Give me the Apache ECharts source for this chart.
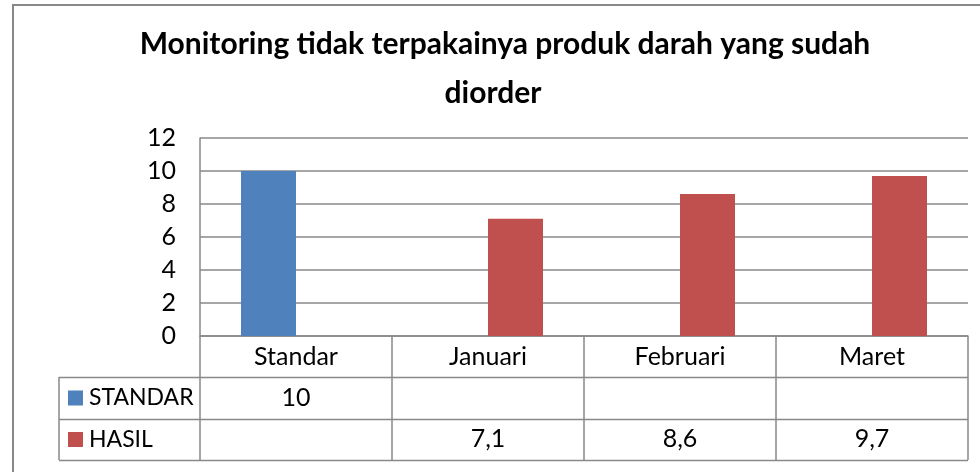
<!DOCTYPE html>
<html>
<head>
<meta charset="utf-8">
<script src="https://cdn.jsdelivr.net/npm/echarts@6/dist/echarts.min.js"></script>
<style>
html, body { margin: 0; padding: 0; background: #fff; }
#main { width: 980px; height: 472px; }
</style>
</head>
<body>
<div id="main"></div>
<script>
var categories = ['Standar', 'Januari', 'Februari', 'Maret'];
var standarValues = [10, null, null, null];
var hasilValues = [null, 7.1, 8.6, 9.7];
var seriesNames = ['STANDAR', 'HASIL'];
var yTicks = { min: 0, max: 12, interval: 2 };

var gray = '#898989';
var font = 'Lato, "Liberation Sans", sans-serif';

var chart = echarts.init(document.getElementById('main'));

var titleStyle = { fontFamily: font, fontSize: 30, fontWeight: 'bold', color: '#000', lineHeight: 34 };
var option = {
    animation: false,
    textStyle: { fontFamily: font },
    title: [
        {
            text: 'Monitoring tidak terpakainya produk darah yang sudah',
            left: 505,
            top: 27,
            textAlign: 'center',
            padding: 0,
            textStyle: titleStyle
        },
        {
            text: 'diorder',
            left: 493,
            top: 76,
            textAlign: 'center',
            padding: 0,
            textStyle: titleStyle
        }
    ],
    legend: {
        orient: 'vertical',
        left: 68,
        top: 386.5,
        padding: 0,
        itemWidth: 15,
        itemHeight: 15,
        itemGap: 18.5,
        icon: 'rect',
        selectedMode: false,
        textStyle: { fontSize: 23, color: '#000', padding: [0, 0, 0, 1] },
        data: seriesNames
    },
    grid: { left: 200, right: 12, top: 138, bottom: 136 },
    xAxis: {
        type: 'category',
        data: categories,
        axisLine: { lineStyle: { color: gray, width: 1.5 } },
        axisTick: { show: true, length: 124, lineStyle: { color: gray, width: 1.5 } },
        axisLabel: { fontSize: 25, color: '#000', margin: 0, lineHeight: 41, verticalAlign: 'top' }
    },
    yAxis: {
        type: 'value',
        min: yTicks.min,
        max: yTicks.max,
        interval: yTicks.interval,
        axisLine: { show: true, lineStyle: { color: gray, width: 1.5 } },
        axisTick: { show: false },
        splitLine: { lineStyle: { color: gray, width: 1.5 } },
        axisLabel: { fontSize: 25, color: '#000', margin: 24 }
    },
    series: [
        {
            name: seriesNames[0],
            type: 'bar',
            data: standarValues,
            barWidth: 55,
            barGap: '0%',
            itemStyle: { color: '#4F81BD' }
        },
        {
            name: seriesNames[1],
            type: 'bar',
            data: hasilValues,
            barWidth: 55,
            barGap: '0%',
            itemStyle: { color: '#C0504D' }
        }
    ]
};
chart.setOption(option);

// data table under the axis
var rowTop = 377, rowH = 41.5, tableLeft = 59, tableRight = 968;
var rows = [standarValues, hasilValues];
var graphics = [];
// outer chart border
graphics.push({ type: 'rect', shape: { x: 13, y: 5, width: 1000, height: 500 }, style: { fill: null, stroke: gray, lineWidth: 2 } });
for (var r = 0; r <= rows.length; r++) {
    var y = Math.round(rowTop + r * rowH) + 0.5;
    graphics.push({ type: 'line', shape: { x1: tableLeft, y1: y, x2: tableRight, y2: y }, style: { stroke: gray, lineWidth: 1.5 } });
}
graphics.push({ type: 'line', shape: { x1: tableLeft, y1: rowTop, x2: tableLeft, y2: rowTop + rows.length * rowH }, style: { stroke: gray, lineWidth: 1.5 } });
rows.forEach(function (vals, r) {
    vals.forEach(function (v, i) {
        if (v == null) return;
        var x = chart.convertToPixel({ xAxisIndex: 0 }, categories[i]);
        graphics.push({
            type: 'text',
            x: x,
            y: rowTop + (r + 0.5) * rowH,
            style: { text: String(v).replace('.', ','), fontSize: 25, fontFamily: font, fill: '#000', align: 'center', verticalAlign: 'middle' }
        });
    });
});
chart.setOption({ graphic: graphics });
</script>
</body>
</html>
